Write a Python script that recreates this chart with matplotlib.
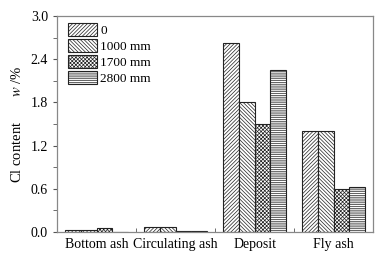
import numpy as np
import matplotlib
matplotlib.use('Agg')
import matplotlib.pyplot as plt
from matplotlib.ticker import MultipleLocator, FixedLocator, FormatStrFormatter

plt.rcParams['font.family'] = 'Liberation Serif'
plt.rcParams['mathtext.fontset'] = 'stix'
plt.rcParams['hatch.color'] = '#555555'
plt.rcParams['hatch.linewidth'] = 0.5

# data
categories = ['Bottom ash', 'Circulating ash', 'Deposit', 'Fly ash']
series = ['0', '1000 mm', '1700 mm', '2800 mm']
v_0 = [0.025, 0.07, 2.625, 1.40]
v_1000 = [0.025, 0.07, 1.81, 1.40]
v_1700 = [0.05, 0.02, 1.50, 0.60]
v_2800 = [0.0, 0.02, 2.25, 0.625]
hatches = ['/' * 9, '\\' * 9, 'x' * 9, '-' * 9]

values = [v_0, v_1000, v_1700, v_2800]

fig = plt.figure(figsize=(3.83, 2.59), dpi=100)
ax = fig.add_axes([0.149, 0.104, 0.825, 0.834])

x = np.arange(len(categories))
w = 0.2
for i, (vals, h, lab) in enumerate(zip(values, hatches, series)):
    ax.bar(x + (i - 1.5) * w, vals, width=w, color='white', edgecolor='#222222',
           linewidth=0.8, hatch=h, label=lab)

ax.set_xlim(-0.5, 3.5)
ax.set_ylim(0, 3.0)
ax.yaxis.set_major_locator(MultipleLocator(0.6))
ax.yaxis.set_minor_locator(MultipleLocator(0.3))
ax.yaxis.set_major_formatter(FormatStrFormatter('%.1f'))
ax.set_xticks(x)
ax.set_xticklabels(categories, fontsize=10)
ax.xaxis.set_minor_locator(FixedLocator([0.5, 1.5, 2.5]))
ax.tick_params(axis='x', which='major', length=0, pad=4)
ax.tick_params(axis='x', which='minor', direction='in', length=3, color='#555555')
ax.tick_params(axis='y', which='both', direction='out', length=3, color='#555555', labelsize=10)

for s in ax.spines.values():
    s.set_color('#888888')
    s.set_linewidth(0.9)

ax.set_ylabel('Cl content       $w$ /%', fontsize=10.5, labelpad=5)

ax.legend(loc='upper left', bbox_to_anchor=(0.035, 0.968), frameon=False,
          borderaxespad=0, borderpad=0, handlelength=2.2, handleheight=1.15,
          labelspacing=0.15, handletextpad=0.25, fontsize=9.5)

plt.savefig('out.png', dpi=100)
